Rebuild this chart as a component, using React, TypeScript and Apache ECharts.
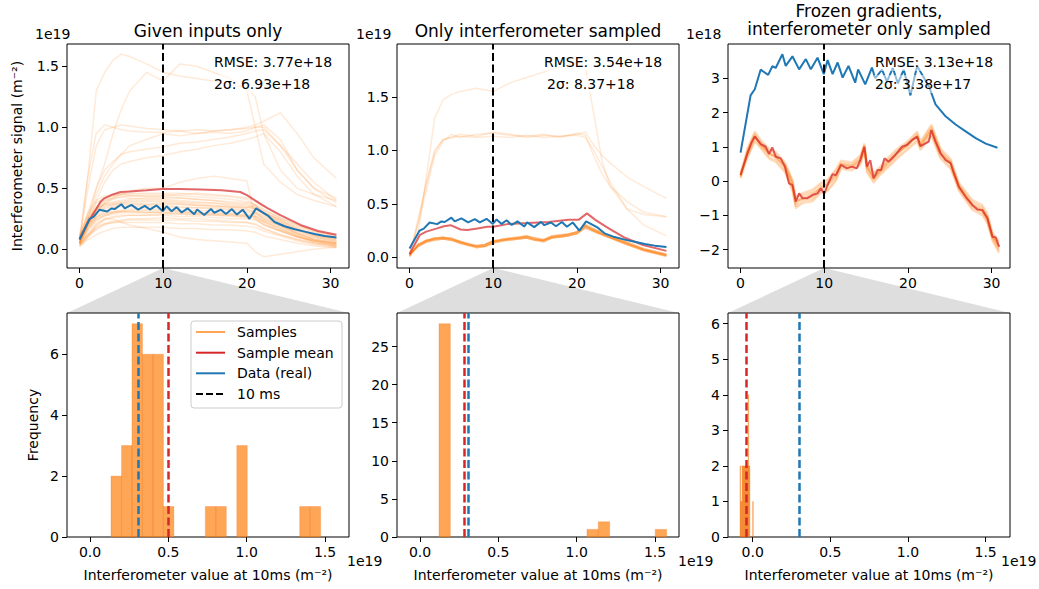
import React, { useEffect, useRef } from "react";
import * as echarts from "echarts";

const FONT = "DejaVu Sans";

// ---------- measured data (real interferometer signal, units 1e18 m^-2) ----------
const DATA_X = [0, 1.2, 1.7, 2.4, 3.3, 3.8, 4.2, 5.0, 5.4, 6.2, 7.0, 7.8, 8.4, 9.2, 9.95, 10.4, 11.0, 11.6, 12.2, 12.9, 13.7, 14.05, 14.9, 15.7, 16.1, 16.9, 17.5, 18.2, 18.8, 19.5, 20.3, 21.1, 22.5, 23.3, 24.5, 25.7, 26.9, 28.1, 29.3, 30.7];
const DATA_Y_E18 = [0.83, 2.5, 2.68, 3.25, 3.1, 3.35, 3.3, 3.7, 3.36, 3.64, 3.26, 3.56, 3.26, 3.6, 3.12, 3.53, 3.12, 3.46, 3.02, 3.36, 2.87, 3.26, 2.82, 3.31, 3.0, 3.25, 2.9, 3.3, 2.85, 3.25, 2.5, 3.36, 2.77, 2.24, 1.89, 1.65, 1.45, 1.25, 1.09, 0.97];

// ---------- panel 1: given inputs only (units 1e19) ----------
const P1_X = [0, 1, 2, 3, 4, 5, 6, 8, 10, 12, 14, 16, 18, 20, 21, 22, 24, 26, 28, 30.7];
const P1_SAMPLES = [
  [0.05, 0.6, 1.3, 1.45, 1.55, 1.6, 1.58, 1.52, 1.45, 1.42, 1.4, 1.38, 1.35, 1.32, 1.25, 0.95, 0.65, 0.5, 0.45, 0.4],
  [0.1, 0.3, 0.5, 0.7, 0.95, 1.15, 1.3, 1.45, 1.38, 1.52, 1.5, 1.45, 1.4, 1.3, 1.0, 0.7, 0.55, 0.45, 0.4, 0.35],
  [0.1, 0.6, 0.95, 1.02, 1.0, 1.02, 1.01, 0.99, 0.98, 0.97, 0.98, 0.97, 0.98, 0.99, 1.0, 1.0, 0.85, 0.7, 0.55, 0.4],
  [0.08, 0.5, 0.85, 0.98, 1.0, 0.98, 0.97, 0.96, 0.96, 0.97, 0.95, 0.96, 0.95, 0.97, 1.0, 1.02, 0.9, 0.65, 0.5, 0.42],
  [0.05, 0.25, 0.45, 0.6, 0.7, 0.78, 0.85, 0.9, 0.95, 0.93, 0.95, 0.97, 0.98, 1.0, 1.02, 1.05, 1.12, 0.95, 0.75, 0.58],
  [0.05, 0.2, 0.4, 0.55, 0.65, 0.7, 0.72, 0.75, 0.77, 0.8, 0.82, 0.85, 0.87, 0.9, 0.92, 0.95, 0.8, 0.6, 0.45, 0.35],
  [0.05, 0.25, 0.5, 0.65, 0.72, 0.78, 0.8, 0.82, 0.84, 0.87, 0.88, 0.9, 0.92, 0.95, 0.97, 0.98, 0.85, 0.65, 0.5, 0.38],
  [0.05, 0.2, 0.3, 0.38, 0.42, 0.45, 0.48, 0.5, 0.5, 0.55, 0.58, 0.6, 0.58, 0.56, 0.25, 0.2, 0.15, 0.1, 0.07, 0.05],
  [0.08, 0.25, 0.35, 0.4, 0.42, 0.43, 0.42, 0.41, 0.41, 0.4, 0.39, 0.38, 0.36, 0.35, 0.33, 0.3, 0.24, 0.18, 0.12, 0.08],
  [0.1, 0.28, 0.38, 0.42, 0.44, 0.45, 0.44, 0.43, 0.43, 0.42, 0.41, 0.4, 0.39, 0.38, 0.36, 0.31, 0.25, 0.19, 0.14, 0.1],
  [0.05, 0.2, 0.32, 0.38, 0.41, 0.43, 0.44, 0.44, 0.44, 0.45, 0.46, 0.45, 0.44, 0.42, 0.4, 0.33, 0.26, 0.2, 0.15, 0.11],
  [0.12, 0.3, 0.4, 0.44, 0.45, 0.46, 0.45, 0.45, 0.45, 0.44, 0.43, 0.42, 0.41, 0.39, 0.37, 0.32, 0.26, 0.2, 0.15, 0.11],
  [0.07, 0.22, 0.34, 0.4, 0.43, 0.45, 0.46, 0.46, 0.46, 0.46, 0.45, 0.44, 0.43, 0.41, 0.36, 0.3, 0.24, 0.17, 0.12, 0.09],
  [0.09, 0.24, 0.33, 0.37, 0.39, 0.4, 0.41, 0.42, 0.42, 0.42, 0.41, 0.4, 0.38, 0.37, 0.34, 0.29, 0.22, 0.16, 0.11, 0.07],
  [0.06, 0.2, 0.3, 0.34, 0.36, 0.37, 0.37, 0.37, 0.38, 0.37, 0.36, 0.35, 0.34, 0.33, 0.3, 0.26, 0.2, 0.14, 0.1, 0.07],
  [0.1, 0.22, 0.3, 0.35, 0.37, 0.38, 0.39, 0.39, 0.39, 0.38, 0.37, 0.36, 0.35, 0.34, 0.33, 0.28, 0.21, 0.15, 0.1, 0.06],
  [0.04, 0.18, 0.28, 0.33, 0.35, 0.36, 0.36, 0.36, 0.36, 0.35, 0.34, 0.34, 0.33, 0.32, 0.31, 0.27, 0.2, 0.13, 0.08, 0.05],
  [0.08, 0.24, 0.32, 0.36, 0.37, 0.38, 0.38, 0.37, 0.37, 0.37, 0.36, 0.36, 0.35, 0.34, 0.36, 0.3, 0.23, 0.17, 0.12, 0.09],
  [0.11, 0.26, 0.34, 0.37, 0.38, 0.39, 0.4, 0.4, 0.4, 0.39, 0.38, 0.38, 0.37, 0.36, 0.34, 0.29, 0.22, 0.16, 0.11, 0.08],
  [0.05, 0.16, 0.26, 0.31, 0.34, 0.35, 0.35, 0.35, 0.35, 0.34, 0.34, 0.33, 0.32, 0.31, 0.3, 0.25, 0.19, 0.13, 0.09, 0.06],
  [0.05, 0.15, 0.23, 0.28, 0.3, 0.31, 0.32, 0.32, 0.32, 0.31, 0.3, 0.3, 0.29, 0.28, 0.27, 0.23, 0.17, 0.11, 0.07, 0.04],
  [0.08, 0.2, 0.27, 0.3, 0.31, 0.31, 0.31, 0.3, 0.3, 0.29, 0.29, 0.28, 0.28, 0.27, 0.3, 0.25, 0.19, 0.13, 0.08, 0.05],
  [0.03, 0.13, 0.21, 0.25, 0.27, 0.28, 0.28, 0.28, 0.29, 0.29, 0.28, 0.28, 0.27, 0.26, 0.25, 0.21, 0.15, 0.1, 0.06, 0.03],
  [0.1, 0.2, 0.26, 0.29, 0.31, 0.32, 0.33, 0.33, 0.33, 0.32, 0.32, 0.31, 0.3, 0.3, 0.28, 0.24, 0.18, 0.12, 0.08, 0.05],
  [0.06, 0.17, 0.24, 0.27, 0.29, 0.3, 0.3, 0.3, 0.31, 0.31, 0.3, 0.29, 0.29, 0.28, 0.26, 0.22, 0.16, 0.11, 0.07, 0.04],
  [0.04, 0.12, 0.19, 0.24, 0.26, 0.27, 0.28, 0.28, 0.28, 0.27, 0.27, 0.26, 0.25, 0.25, 0.24, 0.2, 0.15, 0.1, 0.06, 0.03],
  [0.07, 0.18, 0.25, 0.28, 0.3, 0.31, 0.31, 0.31, 0.3, 0.3, 0.29, 0.29, 0.28, 0.27, 0.27, 0.23, 0.17, 0.11, 0.07, 0.04],
  [0.03, 0.1, 0.16, 0.2, 0.22, 0.23, 0.24, 0.24, 0.24, 0.24, 0.23, 0.23, 0.22, 0.22, 0.21, 0.17, 0.12, 0.08, 0.05, 0.02],
  [0.05, 0.12, 0.18, 0.21, 0.22, 0.22, 0.22, 0.22, 0.22, 0.21, 0.21, 0.2, 0.2, 0.19, 0.18, 0.15, 0.11, 0.07, 0.04, 0.02],
  [0.04, 0.11, 0.17, 0.21, 0.23, 0.24, 0.25, 0.25, 0.26, 0.25, 0.25, 0.24, 0.23, 0.22, 0.2, 0.17, 0.12, 0.08, 0.05, 0.03],
  [0.03, 0.08, 0.12, 0.15, 0.17, 0.18, 0.18, 0.18, 0.18, 0.17, 0.17, 0.16, 0.16, 0.15, 0.14, 0.11, 0.08, 0.05, 0.03, 0.01],
  [0.02, 0.1, 0.2, 0.25, 0.25, 0.22, 0.2, 0.17, 0.14, 0.1, 0.08, 0.07, 0.06, 0.05, -0.02, -0.06, -0.04, -0.02, 0.0, 0.02],
];
const P1_MEAN_X = [0, 1, 2, 2.5, 3, 4, 4.9, 6, 8, 9.9, 12, 14.5, 17, 19.2, 20, 21, 22.4, 24, 26.4, 28.5, 30.7];
const P1_MEAN = [0.08, 0.22, 0.33, 0.39, 0.42, 0.45, 0.47, 0.475, 0.485, 0.495, 0.495, 0.49, 0.485, 0.47, 0.445, 0.4, 0.34, 0.28, 0.2, 0.15, 0.12];

// ---------- panel 2: only interferometer sampled (units 1e19) ----------
const P2_BUNDLE_X = [0, 1, 2, 3, 4, 5, 6, 7, 8, 9, 10, 11, 12, 13, 14, 15, 16, 17, 18, 19, 20, 21, 22, 23, 24, 26, 28, 30.7];
const P2_BUNDLE = [
  [0.02, 0.12, 0.16, 0.18, 0.19, 0.17, 0.15, 0.12, 0.11, 0.12, 0.15, 0.17, 0.17, 0.19, 0.2, 0.17, 0.16, 0.19, 0.21, 0.21, 0.24, 0.3, 0.26, 0.22, 0.19, 0.13, 0.07, 0.02],
  [0.03, 0.1, 0.14, 0.16, 0.17, 0.16, 0.13, 0.11, 0.09, 0.1, 0.13, 0.15, 0.16, 0.17, 0.18, 0.16, 0.15, 0.18, 0.19, 0.2, 0.22, 0.28, 0.25, 0.21, 0.18, 0.12, 0.06, 0.01],
  [0.01, 0.12, 0.15, 0.18, 0.18, 0.18, 0.14, 0.13, 0.1, 0.12, 0.16, 0.16, 0.18, 0.18, 0.2, 0.18, 0.16, 0.2, 0.2, 0.22, 0.23, 0.29, 0.26, 0.23, 0.2, 0.14, 0.08, 0.03],
  [0.02, 0.11, 0.16, 0.17, 0.19, 0.17, 0.15, 0.12, 0.1, 0.11, 0.14, 0.17, 0.17, 0.18, 0.19, 0.17, 0.15, 0.19, 0.2, 0.21, 0.24, 0.3, 0.25, 0.22, 0.19, 0.13, 0.07, 0.02],
  [0.03, 0.1, 0.15, 0.16, 0.17, 0.16, 0.14, 0.11, 0.1, 0.1, 0.14, 0.15, 0.17, 0.17, 0.18, 0.16, 0.16, 0.18, 0.19, 0.2, 0.22, 0.28, 0.24, 0.21, 0.18, 0.12, 0.07, 0.02],
  [0.02, 0.12, 0.16, 0.17, 0.18, 0.18, 0.15, 0.13, 0.11, 0.12, 0.15, 0.16, 0.18, 0.19, 0.2, 0.18, 0.17, 0.2, 0.21, 0.22, 0.24, 0.31, 0.27, 0.23, 0.2, 0.14, 0.08, 0.03],
  [0.01, 0.1, 0.14, 0.17, 0.17, 0.16, 0.13, 0.12, 0.09, 0.1, 0.13, 0.16, 0.16, 0.17, 0.18, 0.16, 0.14, 0.18, 0.19, 0.2, 0.22, 0.27, 0.24, 0.21, 0.18, 0.12, 0.06, 0.01],
  [0.02, 0.11, 0.15, 0.18, 0.18, 0.17, 0.14, 0.12, 0.1, 0.11, 0.15, 0.16, 0.17, 0.18, 0.19, 0.17, 0.16, 0.19, 0.2, 0.21, 0.23, 0.29, 0.25, 0.22, 0.19, 0.13, 0.07, 0.02],
];
const P2_OUT_X = [0, 1, 2, 3, 4, 5, 6, 8, 10, 12, 14, 16, 18, 20, 21, 22, 23, 24, 26, 28, 30.7];
const P2_OUTLIERS = [
  [0.0, 0.2, 0.75, 1.3, 1.47, 1.52, 1.55, 1.58, 1.55, 1.63, 1.68, 1.73, 1.78, 1.82, 1.78, 1.35, 0.9, 0.66, 0.45, 0.4, 0.38],
  [0.02, 0.35, 0.68, 0.98, 1.1, 1.12, 1.13, 1.12, 1.13, 1.12, 1.14, 1.12, 1.13, 1.15, 1.17, 1.05, 0.95, 0.88, 0.75, 0.66, 0.55],
  [0.03, 0.3, 0.62, 0.95, 1.08, 1.15, 1.12, 1.15, 1.16, 1.14, 1.13, 1.15, 1.12, 1.16, 1.14, 0.95, 0.78, 0.66, 0.52, 0.42, 0.38],
  [0.02, 0.32, 0.7, 1.0, 1.1, 1.12, 1.15, 1.13, 1.17, 1.15, 1.12, 1.14, 1.13, 1.14, 1.12, 1.0, 0.85, 0.7, 0.45, 0.3, 0.2],
];
const P2_MEAN_X = [0, 1.25, 2, 3.3, 4.1, 4.9, 6.1, 6.9, 8.1, 9.3, 10, 11.7, 14.2, 16.6, 19, 20.2, 21.2, 22.2, 23.8, 25.8, 27.9, 30.7];
const P2_MEAN = [0.03, 0.21, 0.24, 0.27, 0.29, 0.3, 0.26, 0.255, 0.27, 0.285, 0.285, 0.31, 0.32, 0.33, 0.35, 0.35, 0.41, 0.35, 0.27, 0.18, 0.115, 0.06];

// ---------- panel 3: frozen gradients (units 1e18) ----------
const P3_MEAN_X = [0, 0.8, 1.3, 1.7, 2.4, 3.0, 3.4, 3.8, 4.2, 4.8, 5.3, 5.8, 6.2, 6.6, 7.0, 7.4, 8.0, 8.6, 9.2, 9.6, 10.0, 10.4, 11.0, 11.4, 12.0, 12.7, 13.3, 13.9, 14.3, 14.8, 15.1, 15.5, 15.9, 16.4, 16.8, 17.2, 17.7, 18.5, 19.3, 19.9, 20.5, 21.1, 21.5, 22.5, 22.8, 23.3, 23.9, 24.5, 25.1, 25.5, 26.1, 26.9, 27.7, 28.3, 28.9, 29.5, 30.1, 30.5, 30.9];
const P3_MEAN = [0.17, 0.79, 1.12, 1.3, 1.08, 1.0, 0.79, 0.98, 0.71, 0.66, 0.42, -0.07, -0.12, -0.6, -0.36, -0.5, -0.5, -0.41, -0.36, -0.21, -0.38, -0.12, 0.2, 0.17, 0.47, 0.37, 0.42, 0.37, 0.61, 1.0, 0.42, 0.61, 0.08, 0.32, 0.32, 0.66, 0.56, 0.76, 1.0, 1.05, 1.2, 1.3, 1.02, 1.15, 1.49, 1.15, 0.81, 0.61, 0.52, 0.22, -0.17, -0.46, -0.7, -0.83, -0.85, -1.09, -1.63, -1.65, -1.92];
const P3_SAMPLE_X = [0, 0.8, 1.7, 2.4, 3.4, 4.2, 5.3, 6.2, 6.6, 7.4, 8.6, 9.6, 10.4, 11.4, 12.0, 13.3, 14.3, 14.8, 15.1, 15.9, 16.8, 17.7, 18.5, 19.9, 21.1, 21.5, 22.8, 23.9, 25.1, 26.1, 27.7, 28.9, 29.5, 30.1, 30.9];
const P3_SAMPLES = [
  [0.1, 0.9, 1.4, 1.15, 0.9, 0.8, 0.5, 0.0, -0.5, -0.4, -0.3, -0.1, 0.0, 0.3, 0.55, 0.5, 0.7, 1.05, 0.5, 0.2, 0.4, 0.65, 0.85, 1.1, 1.4, 1.1, 1.6, 0.9, 0.6, -0.1, -0.6, -0.75, -1.0, -1.55, -1.8],
  [0.2, 0.7, 1.2, 1.0, 0.7, 0.6, 0.3, -0.25, -0.75, -0.6, -0.55, -0.3, -0.25, 0.05, 0.4, 0.35, 0.5, 0.9, 0.3, 0.0, 0.25, 0.45, 0.65, 0.95, 1.2, 0.95, 1.35, 0.7, 0.4, -0.25, -0.8, -0.95, -1.2, -1.7, -2.05],
  [0.15, 0.85, 1.35, 1.05, 0.85, 0.65, 0.45, -0.05, -0.65, -0.45, -0.35, -0.2, -0.05, 0.2, 0.5, 0.45, 0.65, 0.95, 0.45, 0.05, 0.35, 0.6, 0.8, 1.0, 1.35, 1.05, 1.55, 0.85, 0.55, -0.15, -0.65, -0.8, -1.05, -1.6, -1.9],
  [0.25, 0.75, 1.25, 1.1, 0.75, 0.75, 0.35, -0.15, -0.55, -0.55, -0.5, -0.25, -0.15, 0.1, 0.45, 0.4, 0.55, 1.05, 0.4, 0.1, 0.3, 0.5, 0.7, 1.1, 1.25, 1.0, 1.45, 0.75, 0.5, -0.2, -0.75, -0.9, -1.15, -1.65, -2.0],
  [0.12, 0.8, 1.3, 1.12, 0.8, 0.7, 0.4, -0.1, -0.7, -0.5, -0.45, -0.15, -0.1, 0.2, 0.5, 0.45, 0.6, 1.0, 0.45, 0.1, 0.3, 0.55, 0.75, 1.05, 1.3, 1.05, 1.5, 0.8, 0.5, -0.15, -0.7, -0.85, -1.1, -1.6, -1.95],
  [0.18, 0.82, 1.32, 1.02, 0.82, 0.72, 0.48, -0.08, -0.58, -0.52, -0.38, -0.22, -0.1, 0.15, 0.48, 0.4, 0.62, 0.98, 0.4, 0.06, 0.34, 0.58, 0.78, 1.04, 1.32, 1.0, 1.48, 0.82, 0.54, -0.18, -0.72, -0.86, -1.08, -1.62, -1.9],
  [0.22, 0.95, 1.45, 1.2, 0.95, 0.85, 0.55, 0.05, -0.45, -0.35, -0.25, -0.05, 0.05, 0.35, 0.6, 0.55, 0.75, 1.1, 0.55, 0.25, 0.45, 0.7, 0.9, 1.15, 1.45, 1.15, 1.65, 0.95, 0.65, -0.05, -0.55, -0.7, -0.95, -1.5, -1.75],
  [0.08, 0.65, 1.15, 0.95, 0.65, 0.55, 0.25, -0.3, -0.8, -0.65, -0.6, -0.35, -0.3, 0.0, 0.35, 0.3, 0.45, 0.85, 0.25, -0.05, 0.2, 0.4, 0.6, 0.9, 1.15, 0.9, 1.3, 0.65, 0.35, -0.3, -0.85, -1.0, -1.25, -1.75, -2.1],
];

// ---------- histograms at 10 ms (units 1e19) ----------
const H1_RANGE = [0.134, 1.472];
const H1_COUNTS = [2, 3, 7, 6, 6, 1, 0, 0, 0, 1, 1, 0, 3, 0, 0, 0, 0, 0, 1, 1];
const H1_MEAN = 0.496;
const H1_DATA = 0.308;
const H2_RANGE = [0.121, 1.574];
const H2_COUNTS = [28, 0, 0, 0, 0, 0, 0, 0, 0, 0, 0, 0, 0, 1, 2, 0, 0, 0, 0, 1];
const H2_MEAN = 0.285;
const H2_DATA = 0.313;
const H3_RANGE = [-0.082, 0.004];
const H3_COUNTS = [2, 1, 1, 2, 2, 2, 2, 2, 2, 2, 2, 2, 4, 2, 2, 0, 0, 0, 0, 1];
const H3_MEAN = -0.041;
const H3_DATA = 0.305;

// ---------- text ----------
const TITLES = ["Given inputs only", "Only interferometer sampled", "Frozen gradients,\ninterferometer only sampled"];
const RMSE_TEXT = ["RMSE: 3.77e+18", "RMSE: 3.54e+18", "RMSE: 3.13e+18"];
const SIGMA_TEXT = ["2σ: 6.93e+18", "2σ: 8.37+18", "2σ: 3.38e+17"];
const TOP_X_TICKS = [0, 10, 20, 30];
const TOP_Y_TICKS = [[0, 0.5, 1.0, 1.5], [0, 0.5, 1.0, 1.5], [-2, -1, 0, 1, 2, 3]];
const BOT_X_TICKS = [0, 0.5, 1.0, 1.5];
const BOT_Y_TICKS = [[0, 2, 4, 6], [0, 5, 10, 15, 20, 25], [0, 1, 2, 3, 4, 5, 6]];
const LEGEND_ITEMS = ["Samples", "Sample mean", "Data (real)", "10 ms"];

// ---------- layout / style ----------
const GRID_LEFT = [67, 397, 728];
const GRID_W = 282;
const GRID_H = 224;
const TOP_Y = 44;
const BOT_Y = 313;
const TOP_XR = [[-1.5, 32.2], [-1.5, 32.2], [-1.5, 32.2]];
const TOP_YR = [[-0.153, 1.683], [-0.1, 1.993], [-2.54, 4.0]];
const BOT_XR = [[-0.147, 1.653], [-0.147, 1.653], [-0.159, 1.657]];
const BOT_YR = [[0, 7.35], [0, 29.4], [0, 6.3]];

const ORANGE = "#ff7f0e";
const RED = "#d62728";
const BLUE = "#1f77b4";

const pairs = (xs: number[], ys: number[], k = 1) => xs.map((x, i) => [x, ys[i] * k]);

function axisCommon(ticks: number[], fmt: (v: number) => string) {
  return {
    axisLine: { show: false, onZero: false },
    splitLine: { show: false },
    axisTick: { show: true, inside: false, length: 5, lineStyle: { color: "#000", width: 1 }, customValues: ticks },
    axisLabel: { customValues: ticks, color: "#000", fontSize: 14, fontFamily: FONT, margin: 8, formatter: fmt },
  };
}

const fmt1 = (v: number) => v.toFixed(1);
const fmtInt = (v: number) => (v < 0 ? "\u2212" + Math.abs(v) : String(v));

function lineSeries(idx: number, data: number[][], color: string, width: number, opacity: number, extra: any = {}) {
  return {
    type: "line",
    xAxisIndex: idx,
    yAxisIndex: idx,
    data,
    symbol: "none",
    showSymbol: false,
    silent: true,
    emphasis: { disabled: true },
    lineStyle: { color, width, opacity },
    ...extra,
  };
}

function vline(x: number, color: string, width = 2) {
  return {
    silent: true,
    symbol: ["none", "none"],
    label: { show: false },
    emphasis: { disabled: true },
    lineStyle: { color, width, type: [8, 3.5], opacity: 1 },
    data: [{ xAxis: x }],
  };
}

function histSeries(idx: number, range: number[], counts: number[]) {
  const n = counts.length;
  const w = (range[1] - range[0]) / n;
  const data: number[][] = [];
  counts.forEach((c, i) => {
    if (c > 0) data.push([range[0] + i * w, range[0] + (i + 1) * w, c]);
  });
  return {
    type: "custom",
    xAxisIndex: idx,
    yAxisIndex: idx,
    silent: true,
    encode: { x: [0, 1], y: 2 },
    data,
    renderItem: (params: any, api: any) => {
      const p0 = api.coord([api.value(0), 0]);
      const p1 = api.coord([api.value(1), api.value(2)]);
      return {
        type: "rect",
        shape: { x: p0[0], y: p1[1], width: p1[0] - p0[0], height: p0[1] - p1[1] },
        style: { fill: "rgba(255,127,14,0.7)", stroke: "rgba(240,110,10,0.5)", lineWidth: 0.5 },
      };
    },
  };
}

export default function App() {
  const ref = useRef<HTMLDivElement>(null);

  useEffect(() => {
    const el = ref.current!;
    const chart = echarts.init(el, null, { renderer: "svg" });

    const grids: any[] = [];
    const xAxes: any[] = [];
    const yAxes: any[] = [];
    for (let i = 0; i < 3; i++) {
      grids.push({ left: GRID_LEFT[i], top: TOP_Y, width: GRID_W, height: GRID_H, show: true, borderColor: "#000", borderWidth: 1, backgroundColor: "transparent" });
    }
    for (let i = 0; i < 3; i++) {
      grids.push({ left: GRID_LEFT[i], top: BOT_Y, width: GRID_W, height: GRID_H, show: true, borderColor: "#000", borderWidth: 1, backgroundColor: "transparent" });
    }
    for (let i = 0; i < 3; i++) {
      xAxes.push({ type: "value", gridIndex: i, min: TOP_XR[i][0], max: TOP_XR[i][1], ...axisCommon(TOP_X_TICKS, (v) => String(v)) });
      const yc: any = { type: "value", gridIndex: i, min: TOP_YR[i][0], max: TOP_YR[i][1], ...axisCommon(TOP_Y_TICKS[i], i < 2 ? fmt1 : fmtInt) };
      if (i === 0) {
        yc.name = "Interferometer signal (m⁻²)";
        yc.nameLocation = "middle";
        yc.nameGap = 43;
        yc.nameTextStyle = { color: "#000", fontSize: 14, fontFamily: FONT };
      }
      yAxes.push(yc);
    }
    for (let i = 0; i < 3; i++) {
      xAxes.push({
        type: "value", gridIndex: 3 + i, min: BOT_XR[i][0], max: BOT_XR[i][1], ...axisCommon(BOT_X_TICKS, fmt1),
        name: "Interferometer value at 10ms (m⁻²)", nameLocation: "middle", nameGap: 31,
        nameTextStyle: { color: "#000", fontSize: 14, fontFamily: FONT },
      });
      const yc: any = { type: "value", gridIndex: 3 + i, min: BOT_YR[i][0], max: BOT_YR[i][1], ...axisCommon(BOT_Y_TICKS[i], fmtInt) };
      if (i === 0) {
        yc.name = "Frequency";
        yc.nameLocation = "middle";
        yc.nameGap = 27;
        yc.nameTextStyle = { color: "#000", fontSize: 14, fontFamily: FONT };
      }
      yAxes.push(yc);
    }

    const series: any[] = [];
    // panel 1
    P1_SAMPLES.forEach((s) => series.push(lineSeries(0, pairs(P1_X, s), ORANGE, 1.5, 0.16)));
    series.push(lineSeries(0, pairs(P1_MEAN_X, P1_MEAN), RED, 2, 0.7));
    series.push(lineSeries(0, pairs(DATA_X, DATA_Y_E18, 0.1), BLUE, 2, 1, { markLine: vline(10, "#000") }));
    // panel 2
    P2_BUNDLE.forEach((s) => series.push(lineSeries(1, pairs(P2_BUNDLE_X, s), ORANGE, 1.5, 0.3)));
    P2_OUTLIERS.forEach((s) => series.push(lineSeries(1, pairs(P2_OUT_X, s), ORANGE, 1.5, 0.16)));
    series.push(lineSeries(1, pairs(P2_MEAN_X, P2_MEAN), RED, 2, 0.7));
    series.push(lineSeries(1, pairs(DATA_X, DATA_Y_E18, 0.1), BLUE, 2, 1, { markLine: vline(10, "#000") }));
    // panel 3
    P3_SAMPLES.forEach((s) => series.push(lineSeries(2, pairs(P3_SAMPLE_X, s), ORANGE, 2, 0.25)));
    series.push(lineSeries(2, pairs(P3_MEAN_X, P3_MEAN), RED, 2, 0.75));
    series.push(lineSeries(2, pairs(DATA_X, DATA_Y_E18), BLUE, 2, 1, { markLine: vline(10, "#000") }));
    // histograms
    const H = [
      [H1_RANGE, H1_COUNTS, H1_MEAN, H1_DATA],
      [H2_RANGE, H2_COUNTS, H2_MEAN, H2_DATA],
      [H3_RANGE, H3_COUNTS, H3_MEAN, H3_DATA],
    ] as any[];
    H.forEach((h, i) => {
      series.push(histSeries(3 + i, h[0], h[1]));
      series.push(lineSeries(3 + i, [], RED, 2, 1, { markLine: vline(h[2], RED, 2.5) }));
      series.push(lineSeries(3 + i, [], BLUE, 2, 1, { markLine: vline(h[3], BLUE, 2.5) }));
    });

    chart.setOption({
      animation: false,
      backgroundColor: "#ffffff",
      textStyle: { fontFamily: FONT },
      grid: grids,
      xAxis: xAxes,
      yAxis: yAxes,
      series,
    });

    const txt = (text: string, x: number, y: number, size: number, align = "left", extra: any = {}) => ({
      type: "text",
      x,
      y,
      silent: true,
      z: 50,
      style: {
        text,
        fill: "#000",
        fontSize: size,
        fontFamily: FONT,
        align,
        textAlign: align,
        verticalAlign: "middle",
        textVerticalAlign: "middle",
        ...extra,
      },
    });

    const elements: any[] = [];
    // connector wedges
    for (let i = 0; i < 3; i++) {
      const apex = chart.convertToPixel({ xAxisIndex: i, yAxisIndex: i } as any, [10, TOP_YR[i][0]]) as number[];
      const bl = chart.convertToPixel({ xAxisIndex: 3 + i, yAxisIndex: 3 + i } as any, [BOT_XR[i][0], BOT_YR[i][1]]) as number[];
      const br = chart.convertToPixel({ xAxisIndex: 3 + i, yAxisIndex: 3 + i } as any, [BOT_XR[i][1], BOT_YR[i][1]]) as number[];
      elements.push({ type: "polygon", silent: true, z: -1, shape: { points: [apex, bl, br] }, style: { fill: "#dedede" } });
    }
    // titles
    elements.push(txt(TITLES[0], GRID_LEFT[0] + GRID_W / 2, 31, 17, "center"));
    elements.push(txt(TITLES[1], GRID_LEFT[1] + GRID_W / 2, 31, 17, "center"));
    const t3 = TITLES[2].split("\n");
    elements.push(txt(t3[0], GRID_LEFT[2] + GRID_W / 2, 11, 17, "center"));
    elements.push(txt(t3[1], GRID_LEFT[2] + GRID_W / 2, 29, 17, "center"));
    // annotations
    const annX = [213, 543, 874];
    const annX2 = [213, 546, 874];
    for (let i = 0; i < 3; i++) {
      elements.push(txt(RMSE_TEXT[i], annX[i], 62, 14, "left", { backgroundColor: "rgba(255,255,255,0.5)", padding: [2, 1, 2, 1] }));
      elements.push(txt(SIGMA_TEXT[i], annX2[i], 84, 14, "left", { backgroundColor: "rgba(255,255,255,0.5)", padding: [2, 1, 2, 1] }));
    }
    // offset texts
    elements.push(txt("1e19", 35, 34, 14));
    elements.push(txt("1e19", 356, 34, 14));
    elements.push(txt("1e18", 686, 34, 14));
    elements.push(txt("1e19", 347, 561, 14));
    elements.push(txt("1e19", 678, 561, 14));
    elements.push(txt("1e19", 1001, 561, 14));
    // legend
    elements.push({ type: "rect", silent: true, z: 40, shape: { x: 191, y: 321, width: 151, height: 87, r: 3 }, style: { fill: "rgba(255,255,255,0.8)", stroke: "#cccccc", lineWidth: 1 } });
    const rows = [332, 352.7, 373.3, 394];
    const handle = [
      { stroke: ORANGE, opacity: 0.7, lineWidth: 2 },
      { stroke: RED, opacity: 1, lineWidth: 2 },
      { stroke: BLUE, opacity: 1, lineWidth: 2 },
      { stroke: "#000", opacity: 1, lineWidth: 2, lineDash: [7, 3] },
    ];
    LEGEND_ITEMS.forEach((label, k) => {
      elements.push({ type: "line", silent: true, z: 45, shape: { x1: 196, y1: rows[k], x2: 225, y2: rows[k] }, style: handle[k] });
      elements.push(txt(label, 237, rows[k], 14));
    });

    chart.setOption({ graphic: { elements } });

    return () => chart.dispose();
  }, []);

  return <div ref={ref} style={{ position: "fixed", left: 0, top: 0, width: 1039, height: 589, background: "#fff" }} />;
}
